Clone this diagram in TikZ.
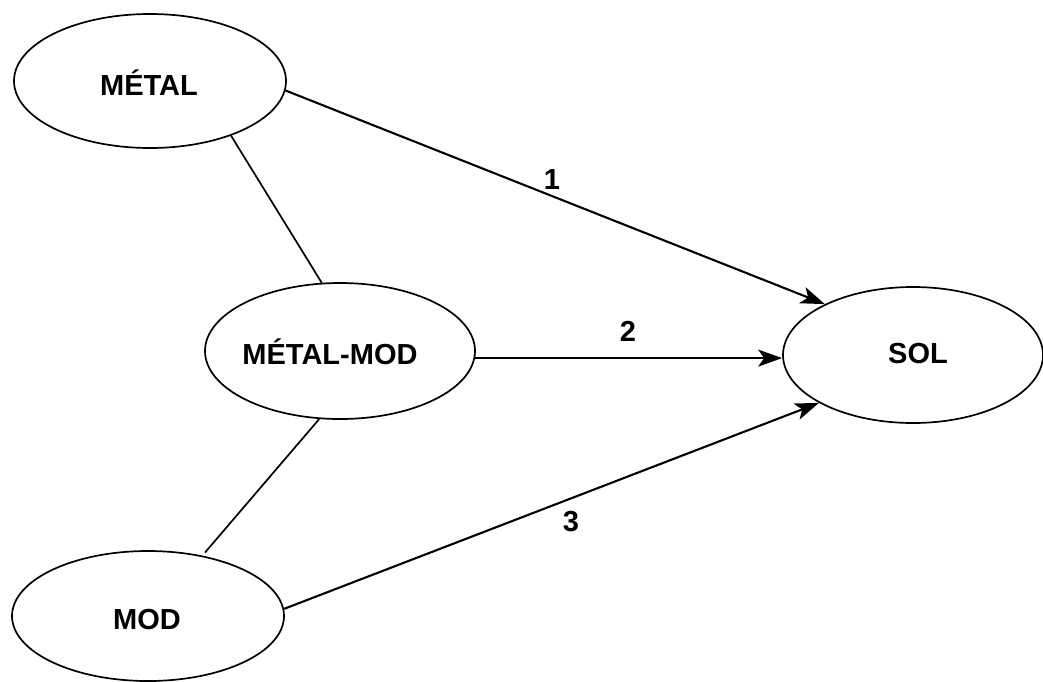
\documentclass[tikz,border=0pt]{standalone}
\usepackage{fontspec}
\setmainfont{Liberation Sans}
\usetikzlibrary{shapes.geometric,arrows.meta}
\tikzset{
  ell/.style={draw, line width=1.7pt, ellipse, inner sep=0pt},
  lbl/.style={font=\fontsize{29}{32}\selectfont\bfseries},
  arr/.style={line width=2.1pt, -{Stealth[length=24pt,width=17pt,inset=6pt]}},
  plain/.style={line width=1.7pt},
}
\begin{document}
\begin{tikzpicture}[x=1pt,y=-1pt]
\useasboundingbox (0,0) rectangle (1043,681);
\node[ell, minimum width=272pt, minimum height=134pt,
      label={[lbl,xshift=-1pt,yshift=-2pt]center:MÉTAL}] (metal) at (150,81) {};
\node[ell, minimum width=270pt, minimum height=136pt,
      label={[lbl,xshift=-10pt,yshift=-1pt]center:MÉTAL-MOD}] (mm) at (340,351) {};
\node[ell, minimum width=260pt, minimum height=136pt,
      label={[lbl,xshift=5pt,yshift=1pt]center:SOL}] (sol) at (913,355) {};
\node[ell, minimum width=272pt, minimum height=130pt,
      label={[lbl,xshift=-1pt,yshift=-4pt]center:MOD}] (mod) at (148,616) {};

\node[lbl] (l1) at (552,180) {1};
\node[lbl] (l2) at (628,331) {2};
\node[lbl] (l3) at (571,522) {3};

\draw[arr] (metal.-4) -- (sol.150);
\draw[arr] (mm.-3) -- (mm.-3 -| sol.west);
\draw[arr] (mod.3) -- (sol.207);
\draw[plain] (metal.-34) -- (mm.105);
\draw[plain, shorten >=4pt] (mm.-107) -- (mod.48);
\end{tikzpicture}
\end{document}
